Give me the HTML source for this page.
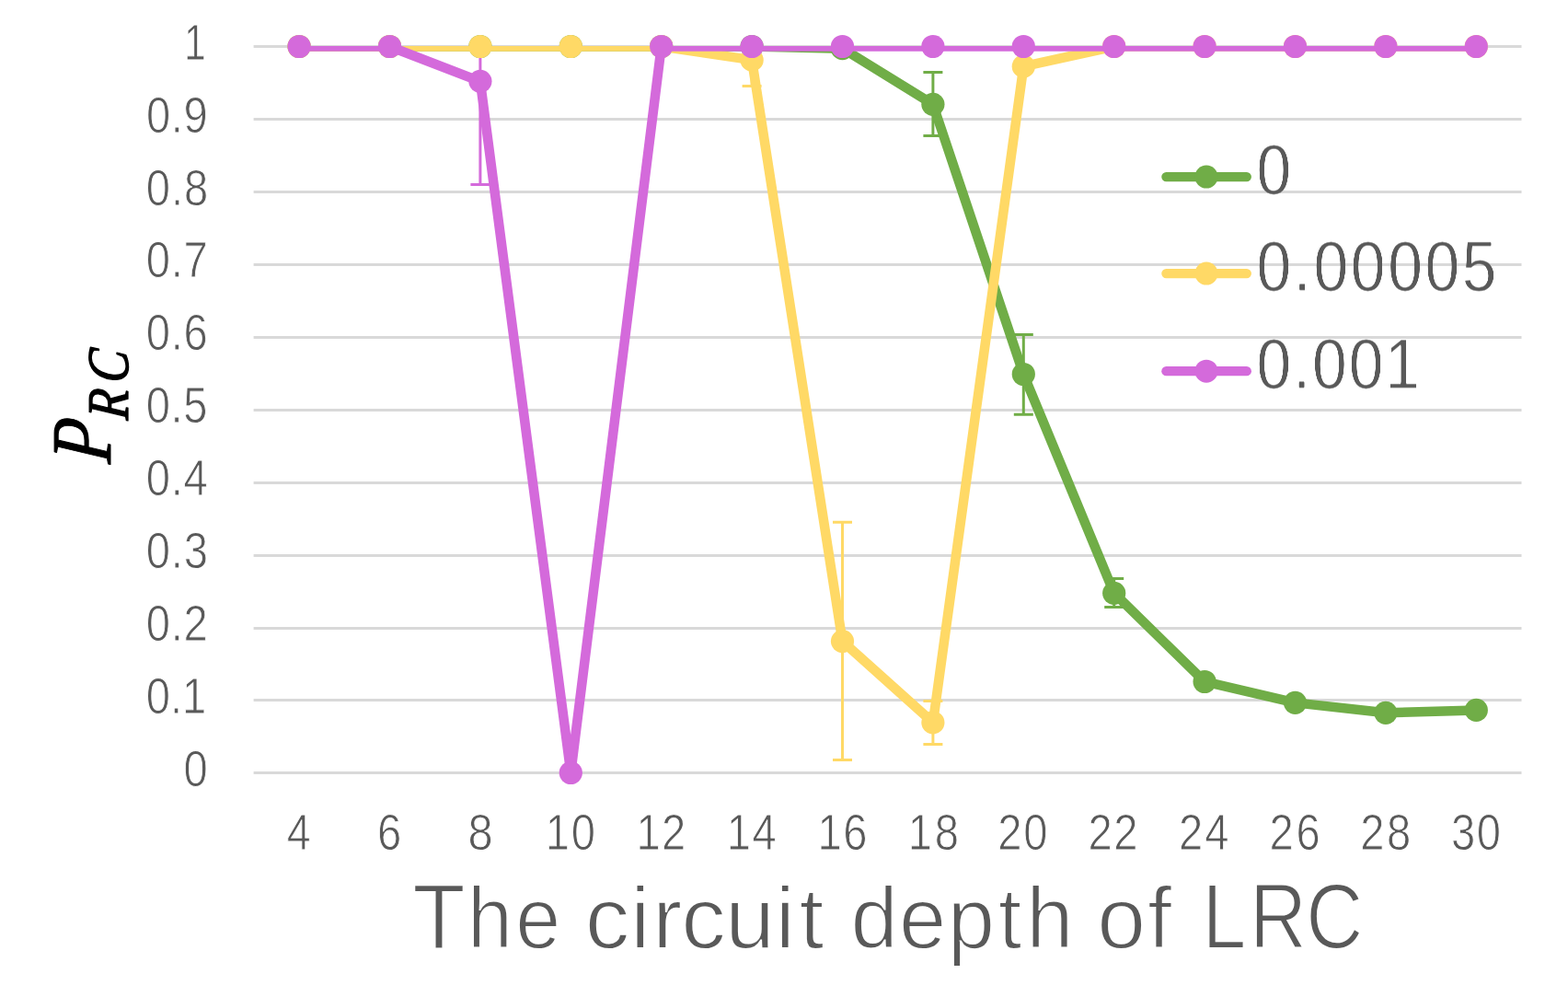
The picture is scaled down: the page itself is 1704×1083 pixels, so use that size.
<!DOCTYPE html>
<html lang="en">
<head>
<meta charset="utf-8">
<title>Chart</title>
<style>
html,body{margin:0;padding:0;background:#fff;}
body{width:1704px;height:1083px;overflow:hidden;}
svg{display:block;}
text{white-space:pre;}
</style>
</head>
<body>
<svg width="1704" height="1083" viewBox="0 0 1704 1083" font-family='"Liberation Sans", sans-serif'>
<defs><filter id="thin" x="-5%" y="-20%" width="110%" height="140%" color-interpolation-filters="sRGB"><feGaussianBlur stdDeviation="2.3 2.1"/><feComponentTransfer><feFuncA type="linear" slope="2.55" intercept="-1.425"/></feComponentTransfer></filter><clipPath id="plot"><rect x="275.6" y="50" width="1377.9" height="797.5"/></clipPath></defs>
<rect width="1704" height="1083" fill="#fff"/>
<path d="M275.6 50.50H1653.5 M275.6 129.50H1653.5 M275.6 208.50H1653.5 M275.6 287.50H1653.5 M275.6 366.50H1653.5 M275.6 445.50H1653.5 M275.6 524.50H1653.5 M275.6 603.50H1653.5 M275.6 682.50H1653.5 M275.6 760.50H1653.5 M275.6 839.50H1653.5" stroke="#D9D9D9" stroke-width="3" fill="none"/>
<g clip-path="url(#plot)">
<path d="M1013.90 78.50V147.50M1003.40 78.50H1024.40M1003.40 147.50H1024.40" stroke="#70AD47" stroke-width="3.0" fill="none"/>
<path d="M1112.30 363.50V450.30M1101.80 363.50H1122.80M1101.80 450.30H1122.80" stroke="#70AD47" stroke-width="3.0" fill="none"/>
<path d="M1210.70 628.50V659.50M1200.20 628.50H1221.20M1200.20 659.50H1221.20" stroke="#70AD47" stroke-width="3.0" fill="none"/>
<path d="M817.10 37.00V93.40M806.60 37.00H827.60M806.60 93.40H827.60" stroke="#FFD966" stroke-width="3.0" fill="none"/>
<path d="M915.50 567.30V825.40M905.00 567.30H926.00M905.00 825.40H926.00" stroke="#FFD966" stroke-width="3.0" fill="none"/>
<path d="M1013.90 761.40V808.40M1003.40 761.40H1024.40M1003.40 808.40H1024.40" stroke="#FFD966" stroke-width="3.0" fill="none"/>
<path d="M521.90 -20.00V200.40M511.40 -20.00H532.40M511.40 200.40H532.40" stroke="#D46ADB" stroke-width="3.0" fill="none"/>
</g>
<path d="M325.10 50.50 L423.50 50.50 L521.90 50.50 L620.30 50.50 L718.70 50.50 L817.10 50.50 L915.50 52.63 L1013.90 113.30 L1112.30 406.50 L1210.70 644.30 L1309.10 740.48 L1407.50 763.36 L1505.90 774.33 L1604.30 771.41" stroke="#70AD47" stroke-width="10.5" fill="none" stroke-linejoin="round" stroke-linecap="round" clip-path="url(#plot)"/><circle cx="325.10" cy="50.50" r="12.6" fill="#70AD47"/><circle cx="423.50" cy="50.50" r="12.6" fill="#70AD47"/><circle cx="521.90" cy="50.50" r="12.6" fill="#70AD47"/><circle cx="620.30" cy="50.50" r="12.6" fill="#70AD47"/><circle cx="718.70" cy="50.50" r="12.6" fill="#70AD47"/><circle cx="817.10" cy="50.50" r="12.6" fill="#70AD47"/><circle cx="915.50" cy="52.63" r="12.6" fill="#70AD47"/><circle cx="1013.90" cy="113.30" r="12.6" fill="#70AD47"/><circle cx="1112.30" cy="406.50" r="12.6" fill="#70AD47"/><circle cx="1210.70" cy="644.30" r="12.6" fill="#70AD47"/><circle cx="1309.10" cy="740.48" r="12.6" fill="#70AD47"/><circle cx="1407.50" cy="763.36" r="12.6" fill="#70AD47"/><circle cx="1505.90" cy="774.33" r="12.6" fill="#70AD47"/><circle cx="1604.30" cy="771.41" r="12.6" fill="#70AD47"/>
<path d="M325.10 50.50 L423.50 50.50 L521.90 50.50 L620.30 50.50 L718.70 50.50 L817.10 65.18 L915.50 696.61 L1013.90 784.82 L1112.30 72.20 L1210.70 50.50 L1309.10 50.50 L1407.50 50.50 L1505.90 50.50 L1604.30 50.50" stroke="#FFD966" stroke-width="10.5" fill="none" stroke-linejoin="round" stroke-linecap="round" clip-path="url(#plot)"/><circle cx="325.10" cy="50.50" r="12.6" fill="#FFD966"/><circle cx="423.50" cy="50.50" r="12.6" fill="#FFD966"/><circle cx="521.90" cy="50.50" r="12.6" fill="#FFD966"/><circle cx="620.30" cy="50.50" r="12.6" fill="#FFD966"/><circle cx="718.70" cy="50.50" r="12.6" fill="#FFD966"/><circle cx="817.10" cy="65.18" r="12.6" fill="#FFD966"/><circle cx="915.50" cy="696.61" r="12.6" fill="#FFD966"/><circle cx="1013.90" cy="784.82" r="12.6" fill="#FFD966"/><circle cx="1112.30" cy="72.20" r="12.6" fill="#FFD966"/><circle cx="1210.70" cy="50.50" r="12.6" fill="#FFD966"/><circle cx="1309.10" cy="50.50" r="12.6" fill="#FFD966"/><circle cx="1407.50" cy="50.50" r="12.6" fill="#FFD966"/><circle cx="1505.90" cy="50.50" r="12.6" fill="#FFD966"/><circle cx="1604.30" cy="50.50" r="12.6" fill="#FFD966"/>
<path d="M325.10 50.50 L423.50 50.50 L521.90 88.37 L620.30 839.50 L718.70 50.50 L817.10 50.50 L915.50 50.50 L1013.90 50.50 L1112.30 50.50 L1210.70 50.50 L1309.10 50.50 L1407.50 50.50 L1505.90 50.50 L1604.30 50.50" stroke="#D46ADB" stroke-width="10.5" fill="none" stroke-linejoin="round" stroke-linecap="round" clip-path="url(#plot)"/><circle cx="325.10" cy="50.50" r="12.6" fill="#D46ADB"/><circle cx="423.50" cy="50.50" r="12.6" fill="#D46ADB"/><circle cx="521.90" cy="88.37" r="12.6" fill="#D46ADB"/><circle cx="620.30" cy="839.50" r="12.6" fill="#D46ADB"/><circle cx="718.70" cy="50.50" r="12.6" fill="#D46ADB"/><circle cx="817.10" cy="50.50" r="12.6" fill="#D46ADB"/><circle cx="915.50" cy="50.50" r="12.6" fill="#D46ADB"/><circle cx="1013.90" cy="50.50" r="12.6" fill="#D46ADB"/><circle cx="1112.30" cy="50.50" r="12.6" fill="#D46ADB"/><circle cx="1210.70" cy="50.50" r="12.6" fill="#D46ADB"/><circle cx="1309.10" cy="50.50" r="12.6" fill="#D46ADB"/><circle cx="1407.50" cy="50.50" r="12.6" fill="#D46ADB"/><circle cx="1505.90" cy="50.50" r="12.6" fill="#D46ADB"/><circle cx="1604.30" cy="50.50" r="12.6" fill="#D46ADB"/>
<path d="M1267.4 192.1H1354.8" stroke="#70AD47" stroke-width="10.3" stroke-linecap="round" fill="none"/><circle cx="1311" cy="192.1" r="12.5" fill="#70AD47"/>
<path d="M1267.4 297.1H1354.8" stroke="#FFD966" stroke-width="10.3" stroke-linecap="round" fill="none"/><circle cx="1311" cy="297.1" r="12.5" fill="#FFD966"/>
<path d="M1267.4 403.2H1354.8" stroke="#D46ADB" stroke-width="10.3" stroke-linecap="round" fill="none"/><circle cx="1311" cy="403.2" r="12.5" fill="#D46ADB"/>
<text transform="matrix(0.2145 0 0 0.2732 200.10 64.70)" font-size="200" fill="#595959" stroke="#fff" stroke-width="3.3">1</text>
<text transform="matrix(0.2359 0 0 0.2732 158.89 143.60)" font-size="200" fill="#595959" stroke="#fff" stroke-width="3.3" letter-spacing="2.93">0.9</text>
<text transform="matrix(0.2359 0 0 0.2732 158.79 222.50)" font-size="200" fill="#595959" stroke="#fff" stroke-width="3.3" letter-spacing="4.12">0.8</text>
<text transform="matrix(0.2359 0 0 0.2732 158.79 301.40)" font-size="200" fill="#595959" stroke="#fff" stroke-width="3.3" letter-spacing="2.79">0.7</text>
<text transform="matrix(0.2359 0 0 0.2732 158.69 380.30)" font-size="200" fill="#595959" stroke="#fff" stroke-width="3.3" letter-spacing="3.14">0.6</text>
<text transform="matrix(0.2359 0 0 0.2732 158.69 459.20)" font-size="200" fill="#595959" stroke="#fff" stroke-width="3.3" letter-spacing="2.43">0.5</text>
<text transform="matrix(0.2359 0 0 0.2732 158.69 538.10)" font-size="200" fill="#595959" stroke="#fff" stroke-width="3.3" letter-spacing="3.34">0.4</text>
<text transform="matrix(0.2359 0 0 0.2732 158.79 617.00)" font-size="200" fill="#595959" stroke="#fff" stroke-width="3.3" letter-spacing="3.56">0.3</text>
<text transform="matrix(0.2359 0 0 0.2732 158.79 695.90)" font-size="200" fill="#595959" stroke="#fff" stroke-width="3.3" letter-spacing="2.79">0.2</text>
<text transform="matrix(0.2359 0 0 0.2732 158.79 774.80)" font-size="200" fill="#595959" stroke="#fff" stroke-width="3.3" letter-spacing="-0.25">0.1</text>
<text transform="matrix(0.2359 0 0 0.2732 199.39 853.70)" font-size="200" fill="#595959" stroke="#fff" stroke-width="3.3">0</text>
<text transform="matrix(0.2327 0 0 0.2732 311.85 922.50)" font-size="200" fill="#595959" stroke="#fff" stroke-width="3.3">4</text>
<text transform="matrix(0.2360 0 0 0.2732 410.12 922.50)" font-size="200" fill="#595959" stroke="#fff" stroke-width="3.3">6</text>
<text transform="matrix(0.2440 0 0 0.2732 508.41 922.50)" font-size="200" fill="#595959" stroke="#fff" stroke-width="3.3">8</text>
<text transform="matrix(0.2359 0 0 0.2732 592.64 922.50)" font-size="200" fill="#595959" stroke="#fff" stroke-width="3.3" letter-spacing="7.93">10</text>
<text transform="matrix(0.2359 0 0 0.2732 691.44 922.50)" font-size="200" fill="#595959" stroke="#fff" stroke-width="3.3" letter-spacing="6.11">12</text>
<text transform="matrix(0.2359 0 0 0.2732 789.84 922.50)" font-size="200" fill="#595959" stroke="#fff" stroke-width="3.3" letter-spacing="5.93">14</text>
<text transform="matrix(0.2359 0 0 0.2732 888.44 922.50)" font-size="200" fill="#595959" stroke="#fff" stroke-width="3.3" letter-spacing="6.81">16</text>
<text transform="matrix(0.2359 0 0 0.2732 986.84 922.50)" font-size="200" fill="#595959" stroke="#fff" stroke-width="3.3" letter-spacing="11.05">18</text>
<text transform="matrix(0.2359 0 0 0.2732 1084.32 922.50)" font-size="200" fill="#595959" stroke="#fff" stroke-width="3.3" letter-spacing="6.74">20</text>
<text transform="matrix(0.2359 0 0 0.2732 1182.42 922.50)" font-size="200" fill="#595959" stroke="#fff" stroke-width="3.3" letter-spacing="7.05">22</text>
<text transform="matrix(0.2359 0 0 0.2732 1281.12 922.50)" font-size="200" fill="#595959" stroke="#fff" stroke-width="3.3" letter-spacing="8.13">24</text>
<text transform="matrix(0.2359 0 0 0.2732 1379.52 922.50)" font-size="200" fill="#595959" stroke="#fff" stroke-width="3.3" letter-spacing="11.98">26</text>
<text transform="matrix(0.2359 0 0 0.2732 1478.32 922.50)" font-size="200" fill="#595959" stroke="#fff" stroke-width="3.3" letter-spacing="10.71">28</text>
<text transform="matrix(0.2359 0 0 0.2732 1576.89 922.50)" font-size="200" fill="#595959" stroke="#fff" stroke-width="3.3" letter-spacing="6.86">30</text>
<text transform="matrix(0.3344 0 0 0.3928 1365.79 211.40)" font-size="200" fill="#595959" filter="url(#thin)">0</text>
<text transform="matrix(0.3344 0 0 0.3928 1365.79 316.10)" font-size="200" fill="#595959" filter="url(#thin)" letter-spacing="9.31">0.00005</text>
<text transform="matrix(0.3344 0 0 0.3928 1365.79 422.20)" font-size="200" fill="#595959" filter="url(#thin)" letter-spacing="7.16">0.001</text>
<text transform="matrix(0.4403 0 0 0.4699 0 1030.04)" x="1018.2 1154.0 1272.2" font-size="200" fill="#595959" stroke="#fff" stroke-width="4.0"><tspan font-size="213.8">T</tspan>he</text>
<text transform="matrix(0.4857 0 0 0.4699 0 1030.04)" x="1309.0 1410.2 1459.9 1524.3 1622.4 1734.8 1788.4" font-size="200" fill="#595959" stroke="#fff" stroke-width="4.0">circuit</text>
<text transform="matrix(0.4613 0 0 0.4699 0 1030.04)" x="2003.9 2118.0 2232.3 2351.6 2417.4" font-size="200" fill="#595959" stroke="#fff" stroke-width="4.0">depth</text>
<text transform="matrix(0.4743 0 0 0.4699 0 1030.04)" x="2513.9 2629.1" font-size="200" fill="#595959" stroke="#fff" stroke-width="4.0">of</text>
<text transform="matrix(0.4303 0 0 0.5022 0 1030.10)" x="3036.0 3155.9 3298.3" font-size="200" fill="#595959" stroke="#fff" stroke-width="4.0">LRC</text>
<text transform="matrix(0 -0.3885 0.4647 0 120.34 504.32) skewX(-6)" font-family='"Liberation Serif", serif' font-style="italic" font-size="200" fill="#000" stroke="#000" stroke-width="2.2" stroke-linejoin="round">P<tspan x="126.8 229.4" y="40.5" font-size="137.3" stroke-width="2.88">RC</tspan></text>
</svg>
</body>
</html>
